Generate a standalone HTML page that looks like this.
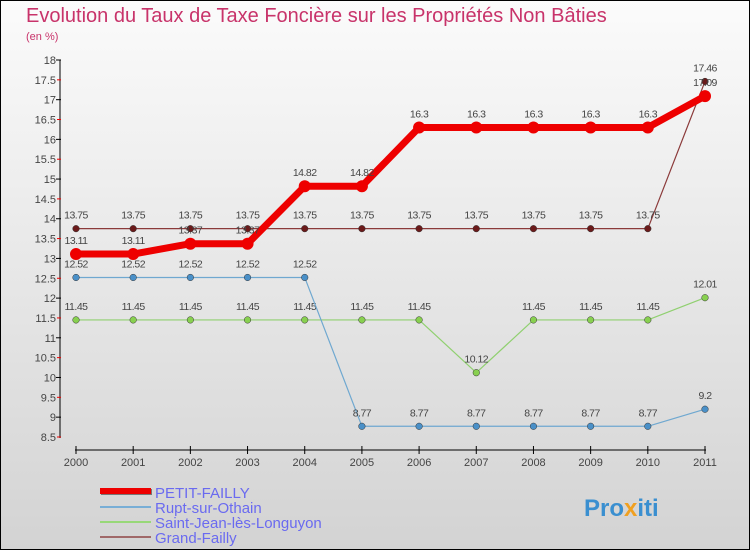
<!DOCTYPE html>
<html><head><meta charset="utf-8"><style>
body{margin:0}
svg{display:block;font-family:"Liberation Sans",sans-serif}
</style></head><body>
<svg id="c" width="750" height="550" xmlns="http://www.w3.org/2000/svg">
<defs><linearGradient id="bg" x1="0" y1="0" x2="0" y2="1"><stop offset="0" stop-color="#fbfbfb"/><stop offset="1" stop-color="#d3d3d3"/></linearGradient></defs>
<rect x="0.5" y="0.5" width="749" height="549" fill="url(#bg)" stroke="#000"/>
<text x="26" y="22" font-size="20" fill="#c8336a">Evolution du Taux de Taxe Foncière sur les Propriétés Non Bâties</text>
<text x="26" y="40" font-size="11" fill="#c8336a">(en %)</text>
<g id="axes"></g><g id="series"></g><g id="legend"></g>
<text x="584" y="516" font-size="24" font-weight="bold" fill="#3a8fd0">Pro<tspan fill="#f0a020">x</tspan>iti</text>
</svg>
<script>
const years=[2000,2001,2002,2003,2004,2005,2006,2007,2008,2009,2010,2011];
const yTicks=[8.5,9,9.5,10,10.5,11,11.5,12,12.5,13,13.5,14,14.5,15,15.5,16,16.5,17,17.5,18];
const petit=[13.11,13.11,13.37,13.37,14.82,14.82,16.3,16.3,16.3,16.3,16.3,17.09];
const rupt=[12.52,12.52,12.52,12.52,12.52,8.77,8.77,8.77,8.77,8.77,8.77,9.2];
const saint=[11.45,11.45,11.45,11.45,11.45,11.45,11.45,10.12,11.45,11.45,11.45,12.01];
const grand=[13.75,13.75,13.75,13.75,13.75,13.75,13.75,13.75,13.75,13.75,13.75,17.46];
const names=["PETIT-FAILLY","Rupt-sur-Othain","Saint-Jean-lès-Longuyon","Grand-Failly"];
const NS="http://www.w3.org/2000/svg";
const X=i=>76+i*(705-76)/11;
const Y=v=>60+(18-v)*(437-60)/9.5;
function mk(t,a,p){const e=document.createElementNS(NS,t);for(const k in a)e.setAttribute(k,a[k]);p.appendChild(e);return e;}
const ax=document.getElementById('axes');
let l=mk('line',{x1:60,y1:60,x2:60,y2:438,stroke:'#000'},ax);


yTicks.forEach(v=>{
 const y=Y(v);
 mk('line',{x1:v%1?57:56,y1:y,x2:61,y2:y,stroke:v%1?'#e00':'#000'},ax);
 const t=mk('text',{x:56,y:y+4,'font-size':11,fill:'#444','text-anchor':'end'},ax);t.textContent=v;
 
 
});
l=mk('line',{x1:75,y1:450,x2:706,y2:450,stroke:'#000'},ax);


years.forEach((yr,i)=>{
 mk('line',{x1:X(i),y1:446,x2:X(i),y2:454,stroke:'#000'},ax);
 const t=mk('text',{x:X(i),y:466,'font-size':11,fill:'#444','text-anchor':'middle'},ax);t.textContent=yr;
 
 
});
const sg=document.getElementById('series');
function draw(vals,color,w,r,dot,key){
 const g=mk('g',{},sg);
 
 
 mk('polyline',{points:vals.map((v,i)=>X(i)+','+Y(v)).join(' '),fill:'none',stroke:color,'stroke-width':w,'stroke-linejoin':'round'},g);
 vals.forEach((v,i)=>{
  const c=mk('circle',{cx:X(i),cy:Y(v),r:r,fill:dot,stroke:w>3?'none':'#333','stroke-width':0.5},g);
  
  
  const t=mk('text',{x:X(i),y:Y(v)-10,'font-size':10.5,fill:'#444','text-anchor':'middle','letter-spacing':'-0.5'},g);t.textContent=v;
  
  
 });
}
draw(grand,'#8b3a3a',1.2,3.3,'#6b1a1a','grand-failly');
draw(saint,'#90d070',1.2,3.3,'#88d050','saint-jean');
draw(rupt,'#6fa8d0',1.2,3.3,'#4a90c8','rupt-sur-othain');
draw(petit,'#ee0000',7,6,'#ee0000','petit-failly');
const lg=document.getElementById('legend');
const lc=['#ee0000','#78aed6','#98d878','#a06868'];
names.forEach((n,i)=>{
 const y=492+i*15;
 const g=mk('g',{},lg);
 
 
 if(i===0){mk('rect',{x:101,y:y-3,width:51,height:6,fill:'#777'},g);mk('rect',{x:100,y:y-4,width:51,height:6,fill:'#ee0000'},g);}
 else mk('line',{x1:100,y1:y,x2:151,y2:y,stroke:lc[i],'stroke-width':2},g);
 const t=mk('text',{x:155,y:y+6,'font-size':15,fill:'#6a6af0'},g);t.textContent=n;
});
</script>
</body></html>
